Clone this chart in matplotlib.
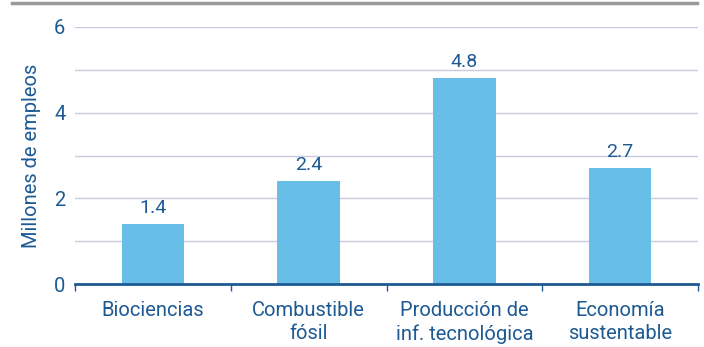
import numpy as np
import matplotlib as mpl
from matplotlib import pyplot as plt
from matplotlib.lines import Line2D

categories = ["Biociencias", "Combustible\nfósil", "Producción de\ninf. tecnológica", "Economía\nsustentable"]
values = [1.4, 2.4, 4.8, 2.7]
value_labels = ["1.4", "2.4", "4.8", "2.7"]

bar_color = "#67BEE6"
text_color = "#1D5A94"
grid_color = "#C9CBE0"

plt.rcParams['font.family'] = ['Roboto', 'DejaVu Sans']

fig = plt.figure(figsize=(7.04, 3.47), dpi=100)
ax = fig.add_axes([75/704, 1 - 284/347, 623/704, 257/347])

x = np.arange(len(categories))
ax.bar(x, values, width=0.4, color=bar_color, zorder=3)
for xi, v, lab in zip(x, values, value_labels):
    ax.annotate(lab, (xi, v), xytext=(0, 5), textcoords="offset points",
                ha="center", va="bottom", fontsize=14, color=text_color)

ax.set_xlim(-0.5, len(categories) - 0.5)
ax.set_ylim(0, 6)
ax.set_yticks([0, 2, 4, 6])
ax.set_yticks([1, 3, 5], minor=True)
ax.grid(axis="y", which="both", color=grid_color, lw=1, zorder=0)
ax.set_xticks(x)
ax.set_xticklabels(categories, fontsize=14.5, color=text_color, linespacing=1.3)
ax.set_xticks(np.arange(-0.5, len(categories)), minor=True)
ax.tick_params(axis="x", which="major", length=0, pad=12)
ax.tick_params(axis="x", which="minor", length=5, width=1, color=text_color, direction="out")
ax.tick_params(axis="y", which="both", length=0, pad=7, labelsize=14.5, labelcolor=text_color)

for side in ["top", "right", "left"]:
    ax.spines[side].set_visible(False)
ax.spines["bottom"].set_color(text_color)
ax.spines["bottom"].set_linewidth(2)
ax.spines["bottom"].set_zorder(4)

ax.set_ylabel("Millones de empleos", fontsize=14.5, color=text_color, labelpad=9)

fig.add_artist(Line2D([12/704, 697/704], [1 - 2.5/347, 1 - 2.5/347],
                      transform=fig.transFigure, color="#9A9A9A", lw=2.5))

fig.savefig("out.png", dpi=100)
